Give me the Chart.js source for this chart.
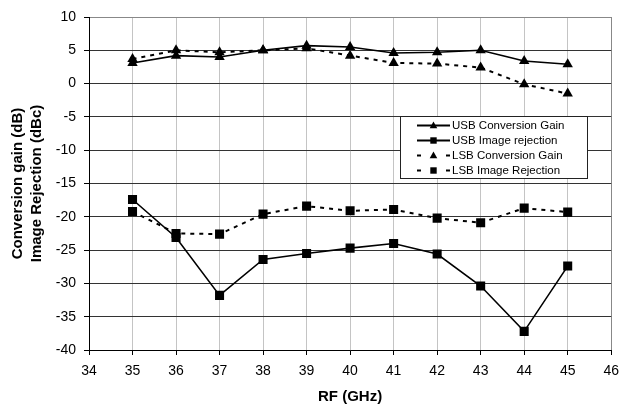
<!DOCTYPE html>
<html>
<head>
<meta charset="utf-8">
<script src="https://cdn.jsdelivr.net/npm/chart.js"></script>
<style>
  html, body { margin: 0; padding: 0; background: #fff; }
  #wrap { width: 627px; height: 408px; }
</style>
</head>
<body>
<div id="wrap"><canvas id="chart" width="627" height="408"></canvas></div>
<script>
// ---------- Data ----------
const rfGHz = [35, 36, 37, 38, 39, 40, 41, 42, 43, 44, 45];
const usbGain = [3.1, 4.2, 4.0, 5.0, 5.7, 5.5, 4.6, 4.7, 5.0, 3.4, 2.9];
const usbRejection = [-17.4, -23.1, -31.8, -26.4, -25.5, -24.7, -24.0, -25.6, -30.4, -37.2, -27.4];
const lsbGain = [3.7, 5.0, 4.7, 5.0, 5.3, 4.2, 3.1, 3.0, 2.4, -0.1, -1.5];
const lsbRejection = [-19.2, -22.5, -22.6, -19.6, -18.4, -19.1, -18.9, -20.2, -20.9, -18.7, -19.3];

const seriesLabels = ['USB Conversion Gain', 'USB Image rejection', 'LSB Conversion Gain', 'LSB Image Rejection'];
const xTitle = 'RF (GHz)';
const yTitle = ['Conversion gain (dB)', 'Image Rejection (dBc)'];

// ---------- Helpers ----------
const FONT = '"Liberation Sans", Arial, sans-serif';
function pts(vals) { return rfGHz.map((f, i) => ({ x: f, y: vals[i] })); }

function series(label, vals, style, dashed) {
  return {
    label,
    data: pts(vals),
    borderColor: '#000',
    backgroundColor: '#000',
    borderWidth: dashed ? 2 : 1.6,
    borderDash: dashed ? [4, 5] : [],
    pointStyle: style,
    pointRadius: style === 'triangle' ? 6 : 6.4,
    pointBorderWidth: 0,
    tension: 0,
    fill: false
  };
}

// little marker drawer for the legend
function marker(ctx, style, x, y, r) {
  ctx.beginPath();
  if (style === 'triangle') {
    ctx.moveTo(x, y - r);
    ctx.lineTo(x + r * 0.95, y + r * 0.7);
    ctx.lineTo(x - r * 0.95, y + r * 0.7);
    ctx.closePath();
  } else {
    ctx.rect(x - r * 0.8, y - r * 0.8, r * 1.6, r * 1.6);
  }
  ctx.fill();
}

// legend box drawn inside the plot
const boxLegend = {
  id: 'boxLegend',
  afterDraw(chart) {
    const ctx = chart.ctx;
    const bx = 400, by = 116, bw = 187, bh = 62;
    ctx.save();
    ctx.fillStyle = '#fff';
    ctx.fillRect(bx, by, bw, bh);
    ctx.strokeStyle = '#222';
    ctx.lineWidth = 1;
    ctx.strokeRect(bx + 0.5, by + 0.5, bw, bh);
    ctx.font = '11.5px ' + FONT;
    ctx.textBaseline = 'middle';
    chart.data.datasets.forEach((ds, i) => {
      const y = by + 9.5 + i * 15;
      const x1 = 417, x2 = 450, xm = (x1 + x2) / 2;
      ctx.strokeStyle = '#000';
      ctx.fillStyle = '#000';
      ctx.lineWidth = 2;
      ctx.beginPath();
      if (ds.borderDash.length) {
        ctx.moveTo(x1, y); ctx.lineTo(x1 + 4, y);
        ctx.moveTo(x2 - 4, y); ctx.lineTo(x2, y);
      } else {
        ctx.moveTo(x1, y); ctx.lineTo(x2, y);
      }
      ctx.stroke();
      marker(ctx, ds.pointStyle, xm, y, 4);
      ctx.fillText(ds.label, 452, y + 0.5);
    });
    ctx.restore();
  }
};

// ---------- Chart ----------
const ctx = document.getElementById('chart').getContext('2d');
new Chart(ctx, {
  type: 'line',
  data: {
    datasets: [
      series(seriesLabels[0], usbGain, 'triangle', false),
      series(seriesLabels[1], usbRejection, 'rect', false),
      series(seriesLabels[2], lsbGain, 'triangle', true),
      series(seriesLabels[3], lsbRejection, 'rect', true)
    ]
  },
  options: {
    responsive: false,
    animation: false,
    layout: { padding: { top: 17, right: 8, left: 0, bottom: 0 } },
    scales: {
      x: {
        type: 'linear',
        min: 34, max: 46,
        afterFit: (s) => { s.height = 58; },
        ticks: { stepSize: 1, color: '#000', padding: 8, font: { family: FONT, size: 14 } },
        grid: {
          color: (c) => (c.tick && c.tick.value === 46 ? '#888' : '#c4c4c4'),
          tickColor: '#000',
          tickLength: 5
        },
        border: { color: '#000', width: 1 },
        title: {
          display: true, text: xTitle, color: '#000',
          font: { family: FONT, size: 15, weight: 'bold' },
          padding: { top: 0, bottom: 2 }
        }
      },
      y: {
        min: -40, max: 10,
        afterFit: (s) => { s.width = 89; },
        ticks: { stepSize: 5, color: '#000', padding: 8, font: { family: FONT, size: 14 } },
        grid: {
          color: (c) => (c.tick && c.tick.value === 10 ? '#888' : '#333'),
          tickColor: '#000',
          tickLength: 5
        },
        border: { color: '#000', width: 1 },
        title: {
          display: true, text: yTitle, color: '#000',
          font: { family: FONT, size: 15, weight: 'bold', lineHeight: 1.3 },
          padding: { top: 8, bottom: 0 }
        }
      }
    },
    plugins: {
      legend: { display: false },
      tooltip: { enabled: false }
    }
  },
  plugins: [boxLegend]
});
</script>
</body>
</html>
